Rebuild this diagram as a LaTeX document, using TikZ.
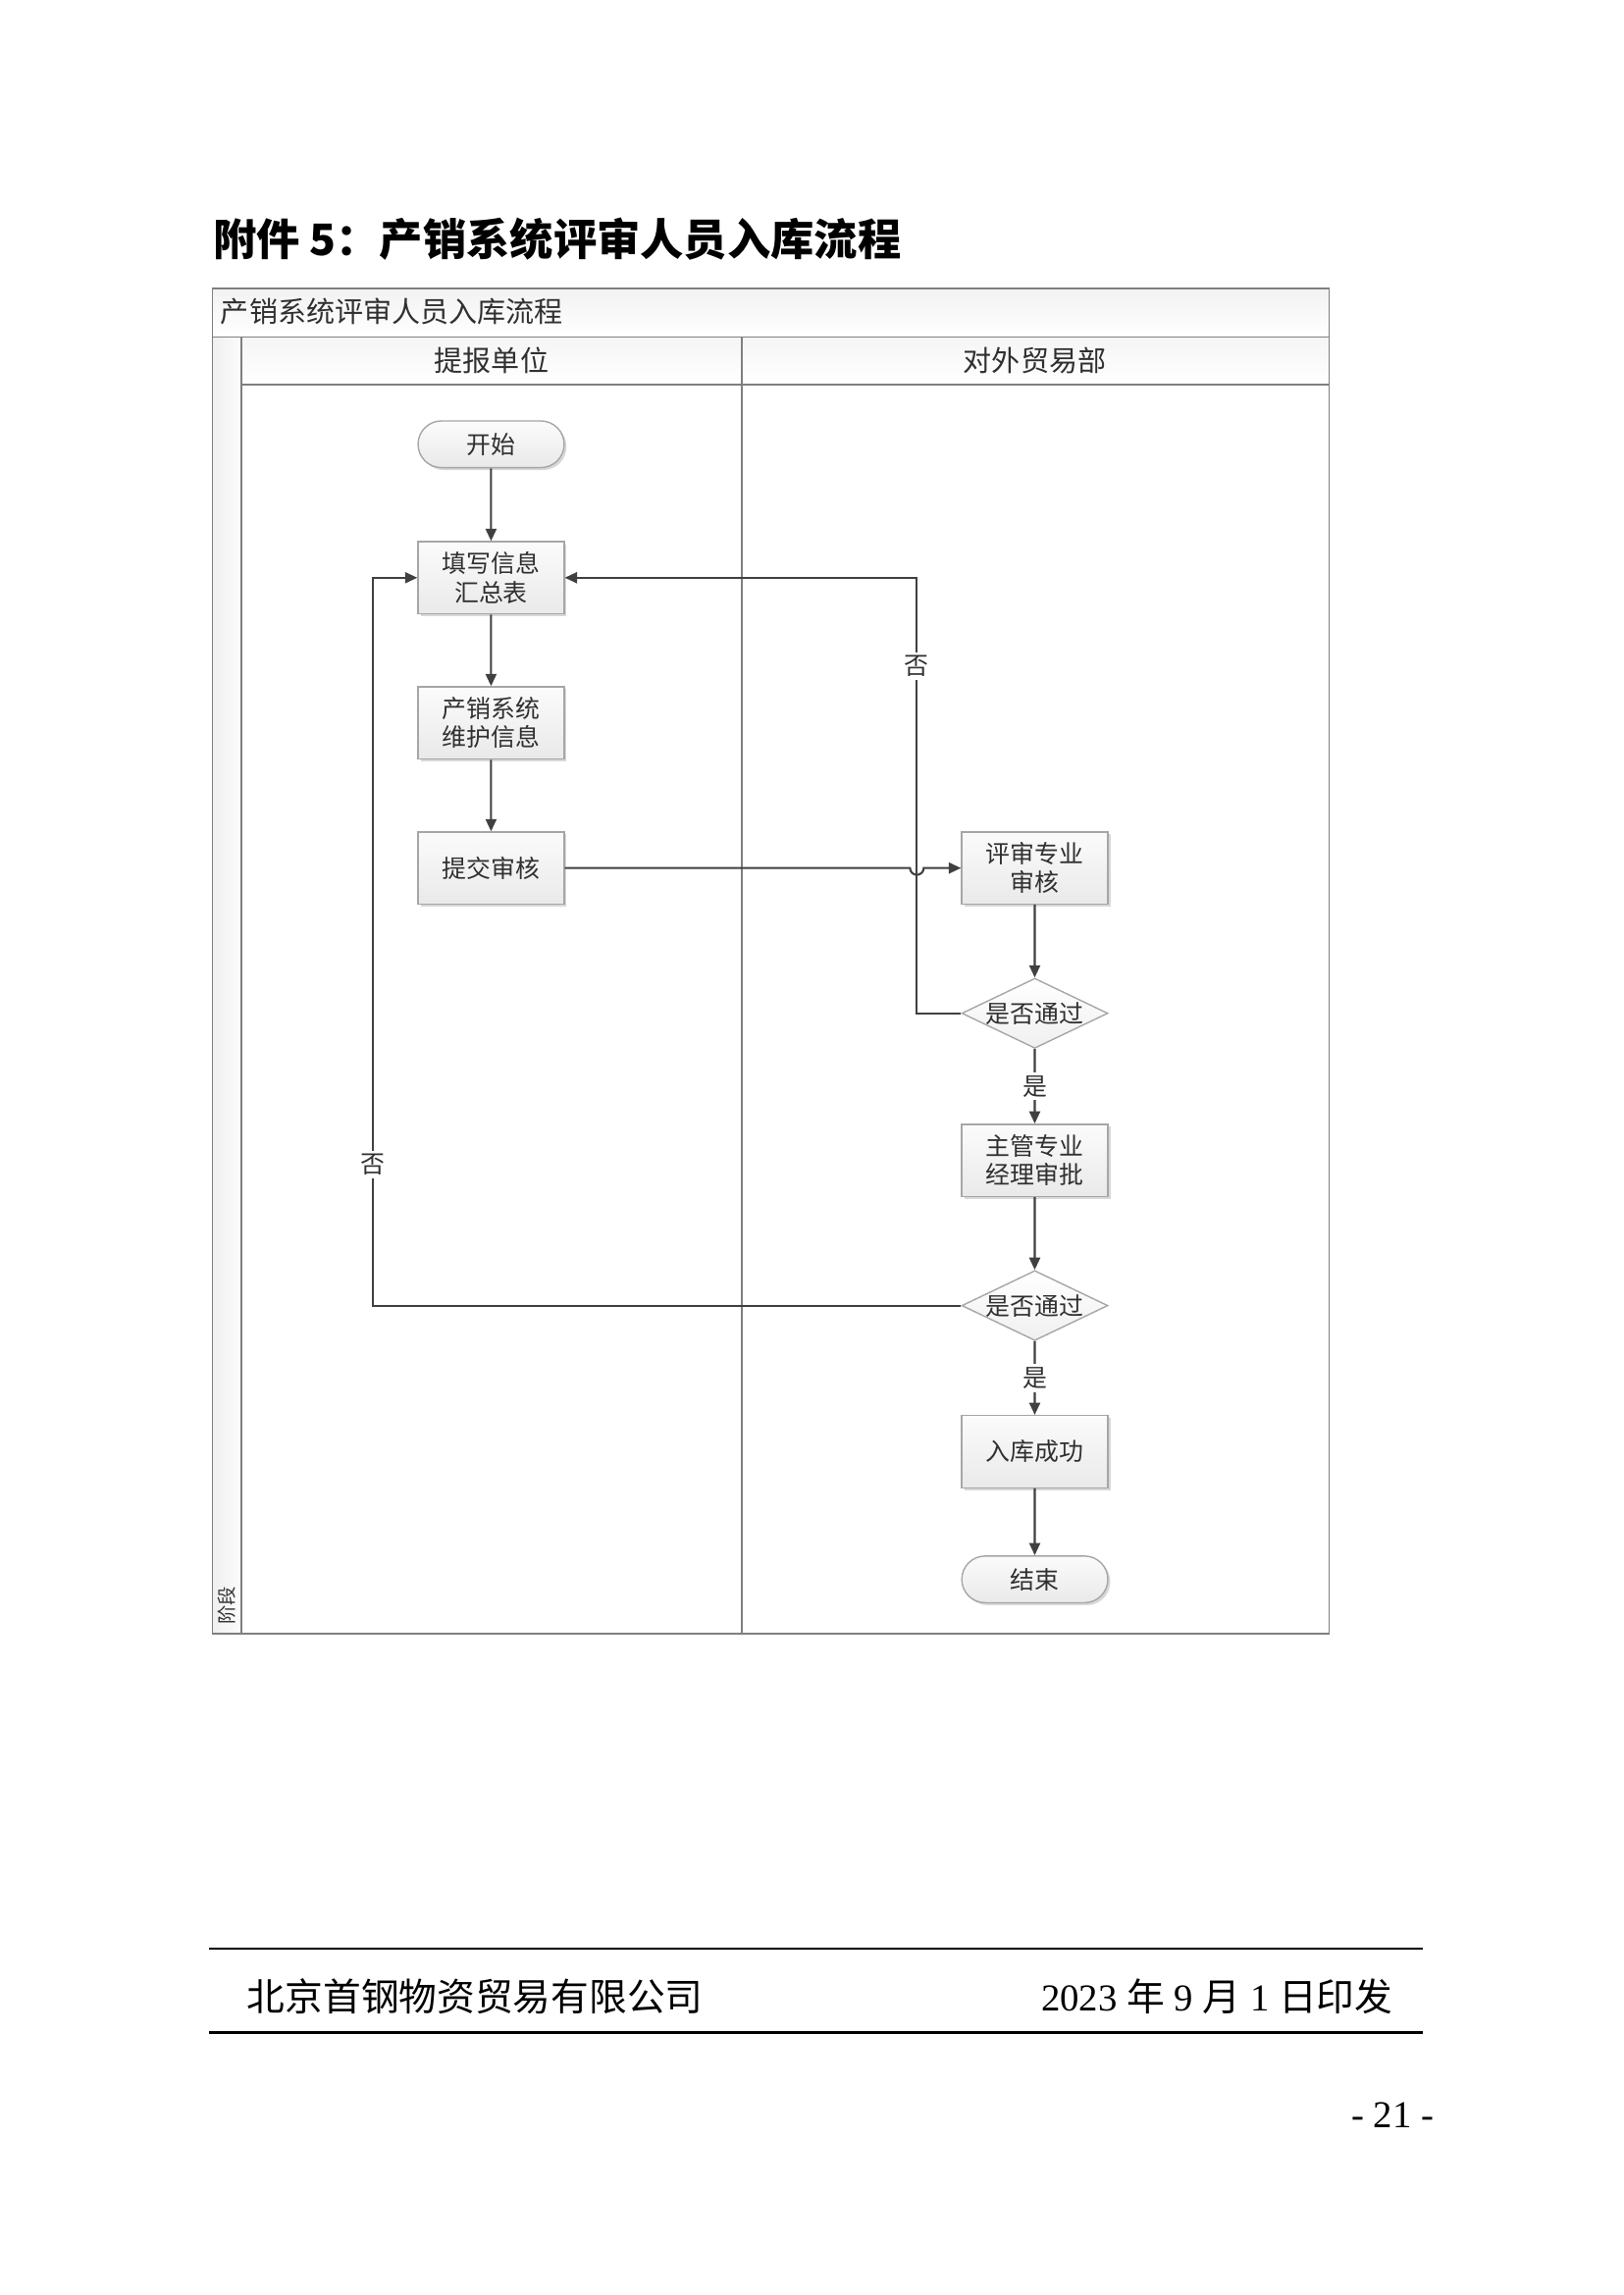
\documentclass[tikz,border=0pt]{standalone}
\usepackage{fontspec}
\setmainfont{Liberation Serif}
\newfontfamily\cjk{Noto Sans CJK SC}
\usetikzlibrary{shapes.geometric,shapes.misc,shadows,arrows.meta}
\definecolor{ln}{HTML}{404040}
\definecolor{fr}{HTML}{7F7F7F}
\definecolor{bd}{HTML}{A6A6A6}
\definecolor{tx}{HTML}{303030}
\begin{document}
\begin{tikzpicture}[x=0.36135pt,y=-0.36135pt,
  every node/.style={inner sep=0pt},
  boxfont/.style={font=\cjk\fontsize{9}{10.6}\selectfont, text=tx},
  proc/.style={draw=bd, line width=0.5pt, top color=gray!3, bottom color=gray!17,
    minimum width=53.8pt, minimum height=26.6pt, align=center, boxfont,
    drop shadow={shadow xshift=0.9pt, shadow yshift=-0.9pt, opacity=0.3, fill=gray}},
  term/.style={proc, rounded rectangle, minimum height=17.2pt},
  dec/.style={draw=bd, line width=0.5pt, top color=white, bottom color=gray!12,
    diamond, aspect=2.08, minimum width=53.8pt, minimum height=25.8pt, boxfont},
  flow/.style={draw=ln, line width=0.75pt, -{Triangle[length=4.5pt,width=4pt]}},
  lbl/.style={fill=white, boxfont, inner sep=1.2pt},
  frameline/.style={draw=fr, line width=0.6pt},
]
\fill[white] (0,0) rectangle (1654,2339);
\useasboundingbox (0,0) rectangle (1654,2339);

\begin{scope}[scale=0.993]
% title
\node[anchor=west, font=\cjk\bfseries\fontsize{16}{18}\selectfont] (title) at (218,245) {附件 5：产销系统评审人员入库流程};

% swimlane frame
\shade[top color=gray!10, bottom color=white] (218,296) rectangle (1364,346);
\shade[left color=gray!12, right color=gray!3] (218,346) rectangle (248,1677);
\shade[top color=gray!8, bottom color=white] (248,346) rectangle (1364,395);
\draw[frameline] (218,296) rectangle (1364,1677);
\draw[frameline] (218,346) -- (1364,346);
\draw[frameline] (248,395) -- (1364,395);
\draw[frameline] (248,346) -- (248,1677);
\draw[frameline] (761,346) -- (761,1677);

\node[anchor=west, font=\cjk\fontsize{10.5}{12}\selectfont, text=tx] (hdr) at (226,320) {产销系统评审人员入库流程};
\node[font=\cjk\fontsize{10.5}{12}\selectfont, text=tx] (lane1) at (504.5,370) {提报单位};
\node[font=\cjk\fontsize{10.5}{12}\selectfont, text=tx] (lane2) at (1062,370) {对外贸易部};
\node[rotate=90, anchor=west, font=\cjk\fontsize{7}{8}\selectfont, text=tx] (stage) at (233,1668) {阶段};

% nodes
\node[term] (start) at (504,456) {开始};
\node[proc] (b1) at (504,593) {填写信息\\汇总表};
\node[proc] (b2) at (504,742) {产销系统\\维护信息};
\node[proc] (b3) at (504,891) {提交审核};
\node[proc] (r1) at (1062,891) {评审专业\\审核};
\node[dec] (d1) at (1062,1040) {是否通过};
\node[proc] (r2) at (1062,1191) {主管专业\\经理审批};
\node[dec] (d2) at (1062,1340) {是否通过};
\node[proc] (r3) at (1062,1490) {入库成功};
\node[term] (end) at (1062,1621) {结束};

\coordinate (k1) at (941,593);
\coordinate (k2) at (383,593);
\coordinate (hopL) at (934,891);

% connectors
\draw[flow] (start) -- (b1);
\draw[flow] (b1) -- (b2);
\draw[flow] (b2) -- (b3);
\draw[flow] (b3.east) -- (hopL) arc[start angle=180, end angle=0, radius=7] -- (r1.west);
\draw[flow] (r1) -- (d1);
\draw[flow] (d1) -- node[lbl] (y1) {是} (r2);
\draw[flow] (r2) -- (d2);
\draw[flow] (d2) -- node[lbl] (y2) {是} (r3);
\draw[flow] (r3) -- (end);
\draw[flow] (d1.west) -| (k1) -- (b1.east);
\draw[flow] (d2.west) -| (k2) -- (b1.west);
\node[lbl] (n1) at (941,684) {否};
\node[lbl] (n2) at (383,1195) {否};

% footer
\draw[line width=0.8pt] (215,2000) -- (1460,2000);
\draw[line width=0.8pt] (215,2086) -- (1460,2086);
\node[anchor=west, font=\cjk\fontsize{14}{16}\selectfont] (org) at (253,2049) {北京首钢物资贸易有限公司};
\node[anchor=east, font=\fontsize{14}{16}\selectfont] (date) at (1430,2049) {2023 {\cjk 年} 9 {\cjk 月} 1 {\cjk 日印发}};
\node[anchor=east, font=\fontsize{14}{16}\selectfont] (pg) at (1472,2171) {- 21 -};
\end{scope}
\end{tikzpicture}
\end{document}
